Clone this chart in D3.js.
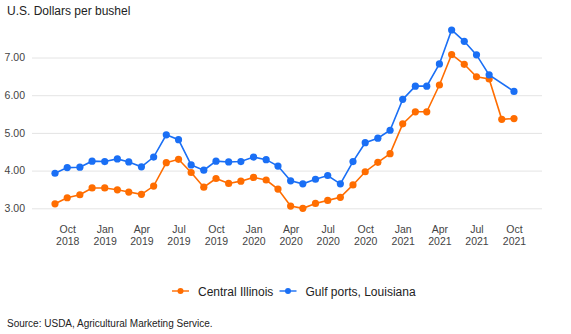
<!DOCTYPE html>
<html lang="en">
<head>
<meta charset="utf-8">
<title>Corn prices</title>
<script src="https://cdn.jsdelivr.net/npm/d3@7"></script>
<style>
  body { margin: 0; background: #fff; }
  svg { font-family: "Liberation Sans", Arial, sans-serif; }
</style>
</head>
<body>
<svg id="chart"></svg>
<script>
// monthly, Sep 2018 .. Oct 2021
var months = d3.timeMonths(new Date(2018, 8, 1), new Date(2021, 10, 1));

var illinois = [3.12, 3.28, 3.36, 3.54, 3.54, 3.49, 3.43, 3.37, 3.59, 4.21, 4.30, 3.95,
                3.56, 3.79, 3.66, 3.72, 3.82, 3.75, 3.51, 3.06, 3.00, 3.13, 3.21, 3.29,
                3.62, 3.97, 4.22, 4.45, 5.24, 5.56, 5.56, 6.27, 7.08, 6.82, 6.49, 6.43,
                5.36, 5.38];
var gulf = [3.93, 4.08, 4.09, 4.25, 4.24, 4.31, 4.23, 4.10, 4.36, 4.95, 4.82, 4.15,
            4.01, 4.25, 4.23, 4.24, 4.36, 4.29, 4.12, 3.73, 3.65, 3.77, 3.87, 3.65,
            4.24, 4.74, 4.86, 5.07, 5.89, 6.24, 6.24, 6.83, 7.73, 7.43, 7.07, 6.54,
            null, 6.10];

var seriesNames = ["Central Illinois", "Gulf ports, Louisiana"];
var seriesColors = ["#ff6d00", "#1a6ff5"];
var yTicks = [3, 4, 5, 6, 7];
var xTicks = d3.timeMonths(new Date(2018, 9, 1), new Date(2021, 10, 1), 3);

var width = 571, height = 334;
var svg = d3.select("#chart").attr("width", width).attr("height", height);

var x = d3.scaleTime()
    .domain([months[0], months[months.length - 1]])
    .range([55, 514]);
var y = d3.scaleLinear().domain([3, 7]).range([208.3, 57.5]);

svg.append("text")
    .attr("x", 7).attr("y", 15)
    .style("font-size", "12px").attr("fill", "#222")
    .text("U.S. Dollars per bushel");

// grid + y labels
var yAxis = d3.axisLeft(y).tickValues(yTicks).tickSize(-(542 - 32)).tickFormat(d3.format(".2f"));
var gy = svg.append("g").attr("transform", "translate(32,0)").call(yAxis);
gy.select(".domain").remove();
gy.selectAll(".tick line").attr("stroke", "#e4e4e4");
gy.selectAll(".tick text").attr("x", -7).attr("fill", "#444").style("font-size", "10.5px")
    .style("font-family", "'Liberation Sans', Arial, sans-serif");

// x labels (two lines)
var fmtM = d3.timeFormat("%b"), fmtY = d3.timeFormat("%Y");
var xAxis = d3.axisBottom(x).tickValues(xTicks).tickSize(0).tickFormat("");
var gx = svg.append("g").attr("transform", "translate(0,220)").call(xAxis);
gx.select(".domain").remove();
gx.selectAll(".tick").each(function(d) {
  var t = d3.select(this).append("text")
      .attr("text-anchor", "middle").attr("fill", "#444")
      .style("font-size", "10.5px");
  t.append("tspan").attr("x", 0).attr("y", 13).text(fmtM(d));
  t.append("tspan").attr("x", 0).attr("y", 25).text(fmtY(d));
});

var series = [illinois, gulf];
var line = d3.line()
    .x(function(d) { return x(d.date); })
    .y(function(d) { return y(d.v); });

series.forEach(function(vals, i) {
  var pts = months.map(function(m, j) { return { date: m, v: vals[j] }; })
      .filter(function(d) { return d.v != null; });
  var g = svg.append("g");
  g.append("path").datum(pts)
      .attr("d", line)
      .attr("fill", "none")
      .attr("stroke", seriesColors[i])
      .attr("stroke-width", 1.6);
  g.selectAll("circle").data(pts).enter().append("circle")
      .attr("cx", function(d) { return x(d.date); })
      .attr("cy", function(d) { return y(d.v); })
      .attr("r", 3.6)
      .attr("fill", seriesColors[i]);
});

// legend
var legendX = [172, 279.5];
var lg = svg.append("g").attr("transform", "translate(0,291)");
seriesNames.forEach(function(name, i) {
  var item = lg.append("g").attr("transform", "translate(" + legendX[i] + ",0)");
  item.append("line").attr("x1", 0).attr("x2", 17)
      .attr("stroke", seriesColors[i]).attr("stroke-width", 2).attr("opacity", 0.7);
  item.append("circle").attr("cx", 8.5).attr("r", 3).attr("fill", seriesColors[i]);
  item.append("text").attr("x", 26).attr("y", 4.5)
      .style("font-size", "12px").attr("fill", "#222").text(name);
});

svg.append("text")
    .attr("x", 7).attr("y", 327)
    .style("font-size", "10px").attr("fill", "#222")
    .text("Source: USDA, Agricultural Marketing Service.");
</script>
</body>
</html>
